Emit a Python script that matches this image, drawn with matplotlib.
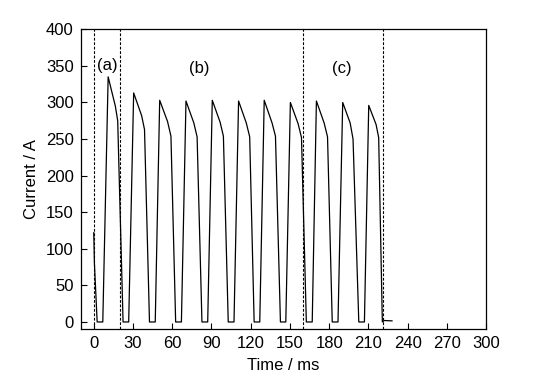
import matplotlib
matplotlib.use("Agg")
import matplotlib.pyplot as plt

plt.rcParams["font.family"] = ["Liberation Sans", "DejaVu Sans"]

# waveform vertices (ms, A)
time_ms = [
    0.0, 0.5, 2.6, 6.9,
    11.0, 16.5, 18.3, 22.4, 26.7,
    30.5, 36.6, 38.8, 42.6, 47.0,
    50.4, 56.4, 59.0, 62.6, 67.0,
    70.5, 76.5, 79.0, 82.7, 87.1,
    90.6, 96.6, 99.1, 102.8, 107.2,
    110.7, 116.6, 119.2, 122.6, 126.9,
    130.3, 136.3, 138.9, 142.7, 146.8,
    150.3, 156.2, 158.8, 162.5, 167.0,
    170.2, 176.1, 178.7, 182.3, 186.7,
    190.3, 196.0, 198.2, 202.6, 206.9,
    210.2, 215.8, 217.8, 220.6, 222.0, 228.0,
]
current_a = [
    122, 80, 0, 0,
    335, 295, 275, 0, 0,
    313, 282, 263, 0, 0,
    303, 274, 254, 0, 0,
    302, 272, 253, 0, 0,
    303, 273, 254, 0, 0,
    302, 272, 253, 0, 0,
    303, 272, 254, 0, 0,
    300, 271, 252, 0, 0,
    302, 272, 253, 0, 0,
    300, 272, 250, 0, 0,
    296, 270, 252, 0, 2, 1.5,
]

stage_bounds = [0, 20, 160, 221]
stage_labels = ["(a)", "(b)", "(c)"]
label_x = [10.4, 80.5, 190.0]
label_y = [351, 347, 347]

x_ticks = list(range(0, 301, 30))
y_ticks = list(range(0, 401, 50))

fig = plt.figure(figsize=(5.35, 3.88), dpi=100)
ax = fig.add_axes([0.1508, 0.1513, 0.758, 0.7732])

ax.plot(time_ms, current_a, color="black", lw=0.9)

for xb in stage_bounds:
    ax.axvline(xb, color="black", lw=0.8, dashes=(2.5, 1.5))

for s, x, y in zip(stage_labels, label_x, label_y):
    ax.text(x, y, s, ha="center", va="center", fontsize=12)

ax.set_xlim(-10, 300)
ax.set_ylim(-10, 400)
ax.set_xticks(x_ticks)
ax.set_yticks(y_ticks)
ax.tick_params(direction="in", length=4.5, width=0.8, labelsize=12, pad=5)
for sp in ax.spines.values():
    sp.set_linewidth(0.9)

ax.set_xlabel("Time / ms", fontsize=12, labelpad=5)
ax.set_ylabel("Current / A", fontsize=12, labelpad=5)

fig.savefig("out.png", dpi=100)
